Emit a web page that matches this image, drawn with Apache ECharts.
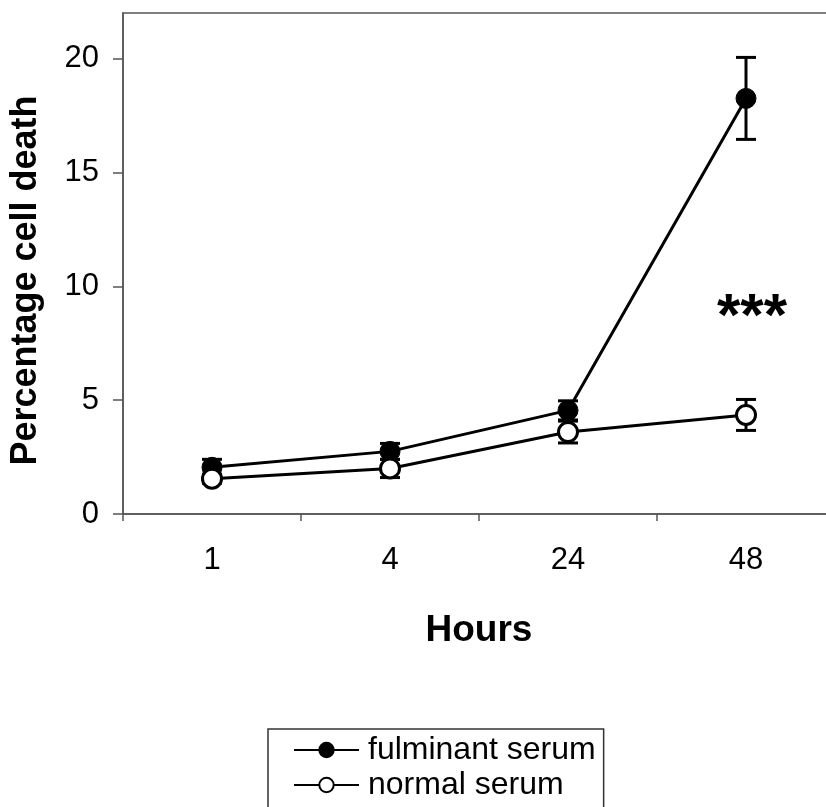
<!DOCTYPE html>
<html>
<head>
<meta charset="utf-8">
<script src="https://cdn.jsdelivr.net/npm/echarts@6/dist/echarts.min.js"></script>
<style>
html,body{margin:0;padding:0;background:#fff;}
#chart{width:826px;height:807px;}
</style>
</head>
<body>
<div id="chart"></div>
<script>
var categories = ['1', '4', '24', '48'];
var fulminantMean = [2.05, 2.75, 4.55, 18.25];
var fulminantErr = [0.35, 0.35, 0.42, 1.8];
var normalMean = [1.55, 2.0, 3.6, 4.35];
var normalErr = [0.2, 0.4, 0.48, 0.68];
var yTicks = [0, 5, 10, 15, 20];

var FONT = '"Liberation Sans", Arial, sans-serif';

function errData(mean, err) {
  return mean.map(function (m, i) { return [i, m - err[i], m + err[i]]; });
}

function renderErr(params, api) {
  var x = api.value(0);
  var lo = api.coord([x, api.value(1)]);
  var hi = api.coord([x, api.value(2)]);
  var hw = 10;
  var st = { stroke: '#000', lineWidth: 3 };
  return {
    type: 'group',
    children: [
      { type: 'line', shape: { x1: lo[0], y1: lo[1], x2: hi[0], y2: hi[1] }, style: st },
      { type: 'line', shape: { x1: lo[0] - hw, y1: lo[1], x2: lo[0] + hw, y2: lo[1] }, style: st },
      { type: 'line', shape: { x1: hi[0] - hw, y1: hi[1], x2: hi[0] + hw, y2: hi[1] }, style: st }
    ]
  };
}

var chart = echarts.init(document.getElementById('chart'), null, { renderer: 'canvas' });
chart.setOption({
  backgroundColor: '#fff',
  animation: false,
  textStyle: { fontFamily: FONT },
  grid: {
    left: 123, top: 13, width: 712, height: 501,
    outerBoundsMode: 'none', containLabel: false,
    show: true, borderColor: '#555', borderWidth: 1.5, backgroundColor: 'transparent'
  },
  legend: {
    orient: 'vertical',
    left: 268, top: 729,
    width: 360, height: 200,
    padding: [5, 8, 30, 25],
    borderColor: '#333', borderWidth: 1.5,
    itemWidth: 65, itemHeight: 18, itemGap: 3,
    textStyle: { fontSize: 32, color: '#000', fontFamily: FONT, padding: [0, 0, 0, 4] },
    data: ['fulminant serum', 'normal serum']
  },
  xAxis: {
    type: 'category',
    data: categories,
    boundaryGap: true,
    name: 'Hours',
    nameLocation: 'middle',
    nameGap: 98,
    nameTextStyle: { fontSize: 37, fontWeight: 'bold', color: '#000', fontFamily: FONT },
    axisLine: { lineStyle: { color: '#555', width: 1.5 } },
    axisTick: { show: true, inside: false, length: 7, lineStyle: { color: '#555', width: 1.5 } },
    axisLabel: { fontSize: 31, color: '#000', margin: 31, fontFamily: FONT },
    splitLine: { show: false }
  },
  yAxis: {
    type: 'value',
    min: 0, max: 22, interval: 5,
    name: 'Percentage cell death',
    nameLocation: 'middle',
    nameGap: 79,
    nameRotate: 90,
    nameTextStyle: { fontSize: 36, fontWeight: 'bold', color: '#000', fontFamily: FONT, padding: [0, 34, 0, 0] },
    axisLine: { show: true, lineStyle: { color: '#555', width: 1.5 } },
    axisTick: { show: true, inside: false, length: 10, lineStyle: { color: '#555', width: 1.5 } },
    axisLabel: {
      fontSize: 31, color: '#000', margin: 24, fontFamily: FONT, showMaxLabel: false,
      formatter: function (v) { return yTicks.indexOf(v) >= 0 ? String(v) : ''; }
    },
    splitLine: { show: false }
  },
  series: [
    {
      type: 'custom', name: 'errF', renderItem: renderErr, data: errData(fulminantMean, fulminantErr),
      z: 1, encode: { x: 0, y: [1, 2] }, silent: true
    },
    {
      type: 'custom', name: 'errN', renderItem: renderErr, data: errData(normalMean, normalErr),
      z: 1, encode: { x: 0, y: [1, 2] }, silent: true
    },
    {
      type: 'line', name: 'fulminant serum', data: fulminantMean, z: 3,
      symbol: 'circle', symbolSize: 20,
      lineStyle: { color: '#000', width: 3 },
      itemStyle: { color: '#000', borderColor: '#000', borderWidth: 1 },
      markPoint: {
        symbol: 'circle', symbolSize: 1,
        itemStyle: { color: 'transparent' },
        label: { show: true, formatter: '***', fontSize: 60, fontWeight: 'bold', color: '#000', fontFamily: FONT, offset: [6, 12] },
        data: [{ coord: ['48', 9.1] }]
      }
    },
    {
      type: 'line', name: 'normal serum', data: normalMean, z: 4,
      symbol: 'circle', symbolSize: 19,
      lineStyle: { color: '#000', width: 3 },
      itemStyle: { color: '#fff', borderColor: '#000', borderWidth: 3 }
    }
  ]
});
</script>
</body>
</html>
